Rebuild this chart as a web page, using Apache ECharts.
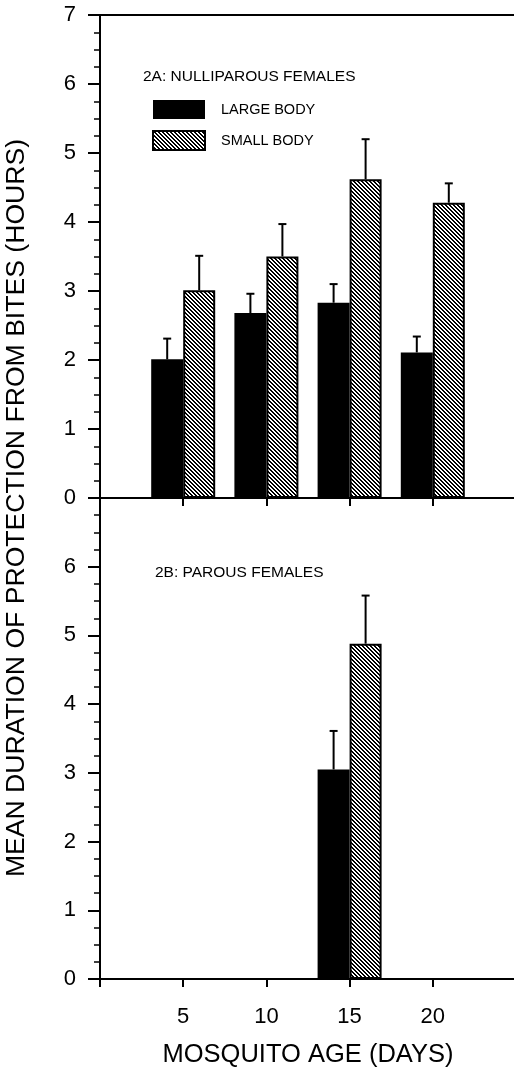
<!DOCTYPE html>
<html>
<head>
<meta charset="utf-8">
<script src="https://cdn.jsdelivr.net/npm/echarts@6/dist/echarts.min.js"></script>
<style>
  html, body { margin: 0; padding: 0; background: #fff; overflow: hidden; }
  #chart { width: 514px; height: 1070px; }
</style>
</head>
<body>
<div id="chart"></div>
<script>
// mosquito age (days)
var ages = [5, 10, 15, 20];
var xTicks = ['5', '10', '15', '20'];

// 2A: nulliparous females
var nulliLarge = [2.01, 2.68, 2.83, 2.11];
var nulliLargeErr = [0.30, 0.28, 0.27, 0.23];
var nulliSmall = [3.01, 3.50, 4.62, 4.28];
var nulliSmallErr = [0.50, 0.47, 0.58, 0.28];

// 2B: parous females (only 15 days measured)
var parousLarge = [null, null, 3.05, null];
var parousLargeErr = [null, null, 0.56, null];
var parousSmall = [null, null, 4.88, null];
var parousSmallErr = [null, null, 0.70, null];

var FONT = "'Liberation Sans', Arial, sans-serif";
var BAR_W = 32;

// diagonal hatch used for the small body bars
function makeHatch() {
  var c = document.createElement('canvas');
  c.width = 4;
  c.height = 4;
  var ctx = c.getContext('2d');
  var img = ctx.createImageData(4, 4);
  for (var y = 0; y < 4; y++) {
    for (var x = 0; x < 4; x++) {
      var k = (y * 4 + x) * 4;
      var on = ((x - y) % 4 + 4) % 4 < 2;
      var v = on ? 0 : 255;
      img.data[k] = v;
      img.data[k + 1] = v;
      img.data[k + 2] = v;
      img.data[k + 3] = 255;
    }
  }
  ctx.putImageData(img, 0, 0);
  return { image: c, repeat: 'repeat' };
}
var hatch = makeHatch();

function pairs(vals) {
  var res = [];
  for (var i = 0; i < ages.length; i++) {
    if (vals[i] != null) res.push([ages[i], vals[i]]);
  }
  return res;
}
function errPairs(vals, errs) {
  var res = [];
  for (var i = 0; i < ages.length; i++) {
    if (vals[i] != null) res.push([ages[i], vals[i], errs[i]]);
  }
  return res;
}

function errorBar(name, xi, yi, data, offset) {
  return {
    name: name + ' err',
    type: 'custom',
    xAxisIndex: xi,
    yAxisIndex: yi,
    z: 5,
    silent: true,
    data: data,
    encode: { x: 0, y: 1 },
    renderItem: function (params, api) {
      var x = api.value(0), m = api.value(1), e = api.value(2);
      var p0 = api.coord([x, m]);
      var p1 = api.coord([x, m + e]);
      var cx = p0[0] + offset;
      return {
        type: 'group',
        children: [
          { type: 'line', shape: { x1: cx, y1: p0[1], x2: cx, y2: p1[1] },
            style: { stroke: '#000', lineWidth: 2 } },
          { type: 'line', shape: { x1: cx - 4, y1: p1[1], x2: cx + 4, y2: p1[1] },
            style: { stroke: '#000', lineWidth: 2 } }
        ]
      };
    }
  };
}

function xAxisBase(gridIndex) {
  return {
    type: 'value',
    gridIndex: gridIndex,
    min: 0,
    max: 25,
    interval: 5,
    splitLine: { show: false },
    axisLine: { show: true, lineStyle: { color: '#000', width: 2 } },
    axisTick: { show: true, length: 8, lineStyle: { color: '#000', width: 2 } },
    axisLabel: { show: false }
  };
}
function yAxisBase(gridIndex) {
  return {
    type: 'value',
    gridIndex: gridIndex,
    min: 0,
    max: 7,
    interval: 1,
    splitLine: { show: false },
    axisLine: { show: true, lineStyle: { color: '#000', width: 2 } },
    axisTick: { show: true, length: 12, lineStyle: { color: '#000', width: 2 } },
    minorTick: { show: true, splitNumber: 4, length: 6, lineStyle: { color: '#000', width: 1.5 } },
    minorSplitLine: { show: false },
    axisLabel: { color: '#000', fontSize: 22, fontFamily: FONT, margin: 24 }
  };
}

var xTop = xAxisBase(0);
var xTopFrame = xAxisBase(0);
xTopFrame.position = 'top';
xTopFrame.axisTick = { show: false };
var xBottom = xAxisBase(1);
xBottom.axisLabel = {
  show: true, color: '#000', fontSize: 22, fontFamily: FONT, margin: 27,
  formatter: function (v) {
    var i = ages.indexOf(v);
    return i >= 0 ? xTicks[i] : '';
  }
};
xBottom.name = 'MOSQUITO AGE (DAYS)';
xBottom.nameLocation = 'middle';
xBottom.nameGap = 63;
xBottom.nameTextStyle = { color: '#000', fontSize: 25.5, fontFamily: FONT };

var yTop = yAxisBase(0);
var yBottom = yAxisBase(1);
yBottom.axisLabel.showMaxLabel = false;

var chart = echarts.init(document.getElementById('chart'));
chart.setOption({
  animation: false,
  backgroundColor: '#fff',
  textStyle: { fontFamily: FONT },
  title: [
    { text: '2A: NULLIPAROUS FEMALES', left: 143, top: 69, padding: 0,
      textStyle: { fontSize: 15.5, fontWeight: 'normal', color: '#000', fontFamily: FONT } },
    { text: '2B: PAROUS FEMALES', left: 155, top: 565, padding: 0,
      textStyle: { fontSize: 15.5, fontWeight: 'normal', color: '#000', fontFamily: FONT } }
  ],
  legend: {
    data: ['LARGE BODY', 'SMALL BODY'],
    orient: 'vertical',
    left: 152,
    top: 100,
    padding: 0,
    icon: 'rect',
    itemWidth: 52,
    itemHeight: 19,
    itemGap: 11,
    textStyle: { color: '#000', fontSize: 14.5, fontFamily: FONT, padding: [0, 0, 0, 11] }
  },
  graphic: [{
    type: 'text',
    x: 17,
    y: 508,
    rotation: Math.PI / 2,
    style: {
      text: 'MEAN DURATION OF PROTECTION FROM BITES (HOURS)',
      fontSize: 26.6,
      fontFamily: FONT,
      fill: '#000',
      align: 'center',
      verticalAlign: 'middle'
    }
  }],
  grid: [
    { left: 100, top: 15, width: 416, height: 483, outerBoundsMode: 'none' },
    { left: 100, top: 498, width: 416, height: 481, outerBoundsMode: 'none' }
  ],
  xAxis: [xTop, xTopFrame, xBottom],
  yAxis: [yTop, yBottom],
  series: [
    { name: 'LARGE BODY', type: 'bar', xAxisIndex: 0, yAxisIndex: 0, barWidth: BAR_W, barGap: '0%',
      itemStyle: { color: '#000' }, data: pairs(nulliLarge) },
    { name: 'SMALL BODY', type: 'bar', xAxisIndex: 0, yAxisIndex: 0, barWidth: BAR_W, barGap: '0%',
      itemStyle: { color: hatch, borderColor: '#000', borderWidth: 2 }, data: pairs(nulliSmall) },
    { name: 'LARGE BODY', type: 'bar', xAxisIndex: 2, yAxisIndex: 1, barWidth: BAR_W, barGap: '0%',
      itemStyle: { color: '#000' }, data: pairs(parousLarge) },
    { name: 'SMALL BODY', type: 'bar', xAxisIndex: 2, yAxisIndex: 1, barWidth: BAR_W, barGap: '0%',
      itemStyle: { color: hatch, borderColor: '#000', borderWidth: 2 }, data: pairs(parousSmall) },
    errorBar('large', 0, 0, errPairs(nulliLarge, nulliLargeErr), -BAR_W / 2),
    errorBar('small', 0, 0, errPairs(nulliSmall, nulliSmallErr), BAR_W / 2),
    errorBar('large', 2, 1, errPairs(parousLarge, parousLargeErr), -BAR_W / 2),
    errorBar('small', 2, 1, errPairs(parousSmall, parousSmallErr), BAR_W / 2)
  ]
});
</script>
</body>
</html>
